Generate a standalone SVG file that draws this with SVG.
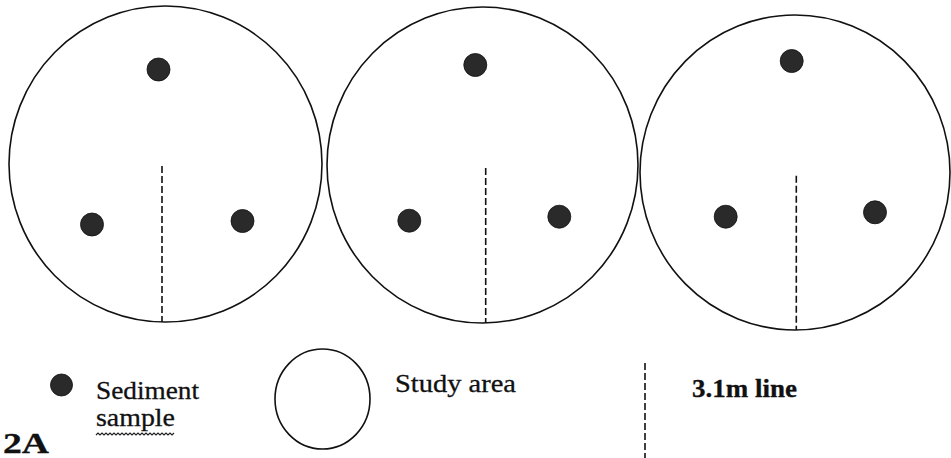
<svg xmlns="http://www.w3.org/2000/svg" width="951" height="458" viewBox="0 0 951 458">
<style>
.area{fill:none;stroke:#111;stroke-width:1.6}
.dot{fill:#2a2a2a;stroke:#111;stroke-width:0.8}
.dash{stroke:#111;stroke-width:1.6;stroke-dasharray:7 3;fill:none}
.lbl{font-family:"Liberation Serif","Times New Roman",Times,serif;font-size:25px;fill:#111;stroke:#111;stroke-width:0.3}
.bold{font-weight:bold}
.big{font-size:30px}
</style>
<rect width="951" height="458" fill="#fff"/>
<g id="area1">
<ellipse class="area" cx="165.5" cy="164" rx="156.5" ry="158"/>
<circle class="dot" cx="158.5" cy="69.5" r="11.5"/>
<circle class="dot" cx="92" cy="224.5" r="11.5"/>
<circle class="dot" cx="242.5" cy="221" r="11.5"/>
</g>
<g id="area2">
<ellipse class="area" cx="482.5" cy="165" rx="155.5" ry="158"/>
<circle class="dot" cx="475.3" cy="65" r="11.5"/>
<circle class="dot" cx="409.3" cy="220.7" r="11.5"/>
<circle class="dot" cx="559.3" cy="216.7" r="11.5"/>
</g>
<g id="area3">
<ellipse class="area" cx="795" cy="172.5" rx="155" ry="157.5"/>
<circle class="dot" cx="791.7" cy="61" r="11.5"/>
<circle class="dot" cx="725.7" cy="216.7" r="11.5"/>
<circle class="dot" cx="875" cy="212.3" r="11.5"/>
</g>
<g id="connectors">
<line class="dash" x1="162" y1="166" x2="162" y2="322"/>
<line class="dash" x1="485.7" y1="168" x2="485.7" y2="323"/>
<line class="dash" x1="796.3" y1="175.7" x2="796.3" y2="330"/>
</g>
<g id="legend-sample">
<circle class="dot" cx="61.5" cy="385" r="11"/>
<text class="lbl" x="96" y="399" textLength="103" lengthAdjust="spacingAndGlyphs">Sediment</text>
<text class="lbl" x="96" y="426" textLength="79" lengthAdjust="spacingAndGlyphs">sample</text>
<path d="M96 435 l2 -2 l2 2 l2 -2 l2 2 l2 -2 l2 2 l2 -2 l2 2 l2 -2 l2 2 l2 -2 l2 2 l2 -2 l2 2 l2 -2 l2 2 l2 -2 l2 2 l2 -2 l2 2 l2 -2 l2 2 l2 -2 l2 2 l2 -2 l2 2 l2 -2 l2 2 l2 -2 l2 2 l2 -2 l2 2 l2 -2 l2 2 l2 -2 l2 2 l2 -2 l2 2 l2 -2" fill="none" stroke="#222" stroke-width="1.2"/>
</g>
<g id="legend-area">
<ellipse class="area" cx="322.5" cy="399" rx="47.5" ry="50"/>
<text class="lbl" x="395" y="392" textLength="121" lengthAdjust="spacingAndGlyphs">Study area</text>
</g>
<g id="legend-line">
<line class="dash" x1="645" y1="363" x2="645" y2="458"/>
<text class="lbl bold" x="692" y="397" textLength="105" lengthAdjust="spacingAndGlyphs">3.1m line</text>
</g>
<g id="figure-label">
<text class="lbl bold big" x="3" y="453" textLength="46" lengthAdjust="spacingAndGlyphs">2A</text>
</g>
</svg>
